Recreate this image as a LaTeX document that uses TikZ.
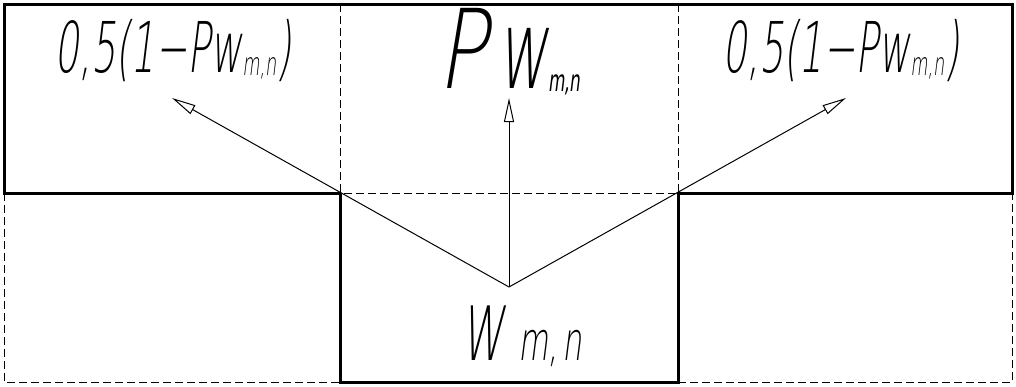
\documentclass[tikz,border=0pt]{standalone}
\usepackage{fontspec}
\newfontfamily\gost[FakeSlant=0.22]{DejaVu Sans ExtraLight}
\usetikzlibrary{arrows.meta}
\begin{document}
\begin{tikzpicture}[x=1pt,y=-1pt,
  thickline/.style={line width=3pt, line join=miter},
  dashline/.style={line width=0.9pt, dash pattern=on 8pt off 4pt},
  vec/.style={line width=1pt, -{Triangle[open,length=24pt,width=10pt,line width=1pt]}},
  lbl/.style={inner sep=0pt, anchor=base, font=\gost}]
\useasboundingbox (0,0) rectangle (1016,386);
% grid points
\coordinate (tl) at (4,4);
\coordinate (tr) at (1012,4);
\coordinate (t1) at (340,4);
\coordinate (t2) at (678,4);
\coordinate (ml) at (4,193);
\coordinate (m1) at (340,193);
\coordinate (m2) at (678,193);
\coordinate (mr) at (1012,193);
\coordinate (bl) at (4,382);
\coordinate (b1) at (340,382);
\coordinate (b2) at (678,382);
\coordinate (br) at (1012,382);
% dashed grid
\draw[dashline] (t1) -- (m1);
\draw[dashline] (t2) -- (m2);
\draw[dashline] ([xshift=-8pt]m1) -- ([xshift=8pt]m2);
\draw[dashline] (ml) -- (bl) -- (b1);
\draw[dashline] (b2) -- (br) -- (mr);
% thick outlines
\draw[thickline] (m1) -- (ml) -- (tl) -- (tr) -- (mr) -- (m2);
\draw[thickline] (m1) -- (b1) -- (b2) -- (m2);
% vectors
\coordinate (o) at (509,287);
\coordinate (aL) at (172,98);
\coordinate (aC) at (509,98);
\coordinate (aR) at (846,98);
\draw[vec] (o) -- (aL);
\draw[vec] (o) -- (aC);
\draw[vec] (o) -- (aR);
% labels
\node[lbl] (lL) at (173,72) {\scalebox{0.55}[1]{\fontsize{70}{72}\selectfont 0,5(1−Pw\raisebox{-3pt}{\fontsize{32}{32}\selectfont m,n})}};
\node[lbl] (lR) at (841,72) {\scalebox{0.55}[1]{\fontsize{70}{72}\selectfont 0,5(1−Pw\raisebox{-3pt}{\fontsize{32}{32}\selectfont m,n})}};
\node[lbl] (lC) at (509,88) {\fontsize{110}{112}\selectfont\scalebox{0.75}[1]{P}\scalebox{0.56}[1]{\,w\raisebox{-3pt}{\fontsize{30}{30}\selectfont\bfseries m,n}}};
\node[lbl] (lB) at (522,360) {\scalebox{0.57}[1]{\fontsize{75}{76}\selectfont W\,\,\fontsize{54}{54}\selectfont m,\,n}};
\end{tikzpicture}
\end{document}
